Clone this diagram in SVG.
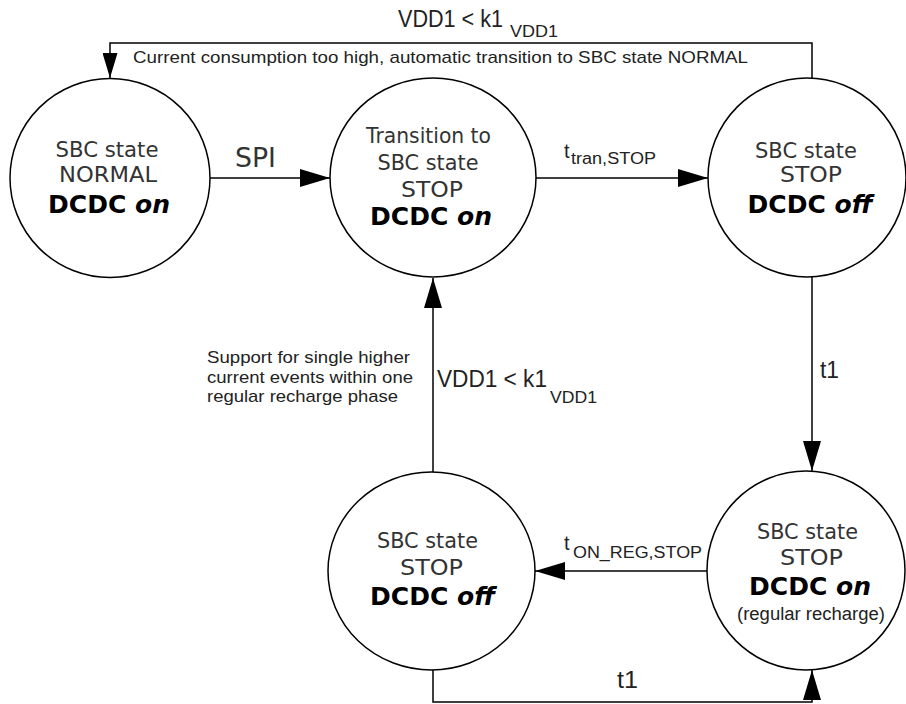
<svg xmlns="http://www.w3.org/2000/svg" width="906" height="704" viewBox="0 0 906 704">
  <style>
    .state { fill: #fff; stroke: #000; stroke-width: 1.5; }
    .wire { fill: none; stroke: #000; stroke-width: 1.5; }
    .st { font-family: "DejaVu Sans", "Liberation Sans", sans-serif; font-size: 21px; fill: #333; text-anchor: middle; }
    .dc { font-family: "DejaVu Sans", "Liberation Sans", sans-serif; font-size: 25px; font-weight: bold; fill: #000; text-anchor: middle; }
    .dc tspan { font-style: italic; }
    .note { font-family: "Liberation Sans", Arial, sans-serif; font-size: 18px; fill: #222; text-anchor: middle; }
    .lbl { font-family: "Liberation Sans", Arial, sans-serif; fill: #222; }
    .big { font-size: 23px; }
    .sub { font-size: 16px; }
    .mid { font-size: 17px; }
    .spi { font-family: "DejaVu Sans", sans-serif; font-size: 26px; fill: #333; }
  </style>
  <defs>
    <marker id="arrow" markerUnits="userSpaceOnUse" markerWidth="30" markerHeight="18" refX="30" refY="9" orient="auto">
      <path d="M0,0 L30,9 L0,18 Z" fill="#000"/>
    </marker>
    <marker id="arrow-small" markerUnits="userSpaceOnUse" markerWidth="25" markerHeight="15" refX="25" refY="7.5" orient="auto">
      <path d="M0,0 L25,7.5 L0,15 Z" fill="#000"/>
    </marker>
  </defs>

  <rect width="906" height="704" fill="#fff"/>

  <!-- transitions -->
  <g id="connectors">
    <path class="wire" d="M210,178 H330" marker-end="url(#arrow)"/>
    <path class="wire" d="M536,178 H708" marker-end="url(#arrow)"/>
    <path class="wire" d="M812,78 V43 H110 V78" marker-end="url(#arrow-small)"/>
    <path class="wire" d="M812,277 V471" marker-end="url(#arrow)"/>
    <path class="wire" d="M707,571 H535" marker-end="url(#arrow)"/>
    <path class="wire" d="M433,472 V278" marker-end="url(#arrow)"/>
    <path class="wire" d="M433,670 V702 H812 V670" marker-end="url(#arrow)"/>

    <!-- transition labels -->
    <text class="lbl big" x="398" y="27" textLength="105" lengthAdjust="spacingAndGlyphs">VDD1 &lt; k1</text>
    <text class="lbl sub" x="510" y="37" textLength="48" lengthAdjust="spacingAndGlyphs">VDD1</text>
    <text class="lbl mid" x="133" y="63" textLength="615" lengthAdjust="spacingAndGlyphs">Current consumption too high, automatic transition to SBC state NORMAL</text>

    <text class="spi" x="235" y="167" textLength="41" lengthAdjust="spacingAndGlyphs">SPI</text>

    <text class="lbl" x="564" y="158" font-size="20">t</text>
    <text class="lbl sub" x="571" y="164" textLength="85" lengthAdjust="spacingAndGlyphs">tran,STOP</text>

    <text class="lbl" x="820" y="378" font-size="24" textLength="19" lengthAdjust="spacingAndGlyphs">t1</text>

    <text class="lbl mid" x="207" y="363" textLength="203" lengthAdjust="spacingAndGlyphs">Support for single higher</text>
    <text class="lbl mid" x="207" y="383" textLength="206" lengthAdjust="spacingAndGlyphs">current events within one</text>
    <text class="lbl mid" x="207" y="402" textLength="191" lengthAdjust="spacingAndGlyphs">regular recharge phase</text>

    <text class="lbl big" x="437" y="387" textLength="110" lengthAdjust="spacingAndGlyphs">VDD1 &lt; k1</text>
    <text class="lbl sub" x="550" y="403" textLength="47" lengthAdjust="spacingAndGlyphs">VDD1</text>

    <text class="lbl" x="564" y="550" font-size="20">t</text>
    <text class="lbl sub" x="573" y="558" textLength="129" lengthAdjust="spacingAndGlyphs">ON_REG,STOP</text>

    <text class="lbl" x="617" y="688" font-size="24" textLength="21" lengthAdjust="spacingAndGlyphs">t1</text>
  </g>

  <g id="normal-on">
    <ellipse class="state" cx="110" cy="178" rx="100" ry="99.5"/>
    <text class="st" x="107" y="157" textLength="103" lengthAdjust="spacingAndGlyphs">SBC state</text>
    <text class="st" x="108" y="182" textLength="98" lengthAdjust="spacingAndGlyphs">NORMAL</text>
    <text class="dc" x="109" y="213">DCDC <tspan>on</tspan></text>
  </g>

  <g id="transition-stop-on">
    <ellipse class="state" cx="433" cy="177.5" rx="103" ry="99.5"/>
    <text class="st" x="428.5" y="143" textLength="125" lengthAdjust="spacingAndGlyphs">Transition to</text>
    <text class="st" x="428" y="170" textLength="101" lengthAdjust="spacingAndGlyphs">SBC state</text>
    <text class="st" x="432" y="197" textLength="62" lengthAdjust="spacingAndGlyphs">STOP</text>
    <text class="dc" x="431" y="225">DCDC <tspan>on</tspan></text>
  </g>

  <g id="stop-off">
    <ellipse class="state" cx="807" cy="177.5" rx="99" ry="99.5"/>
    <text class="st" x="806" y="158" textLength="102" lengthAdjust="spacingAndGlyphs">SBC state</text>
    <text class="st" x="811" y="182" textLength="62" lengthAdjust="spacingAndGlyphs">STOP</text>
    <text class="dc" x="810" y="213">DCDC <tspan>off</tspan></text>
  </g>

  <g id="stop-on-recharge">
    <ellipse class="state" cx="806" cy="570.5" rx="99" ry="99.5"/>
    <text class="st" x="807.5" y="539" textLength="101" lengthAdjust="spacingAndGlyphs">SBC state</text>
    <text class="st" x="811.5" y="565" textLength="63" lengthAdjust="spacingAndGlyphs">STOP</text>
    <text class="dc" x="810" y="595">DCDC <tspan>on</tspan></text>
    <text class="note" x="811" y="620" textLength="148" lengthAdjust="spacingAndGlyphs">(regular recharge)</text>
  </g>

  <g id="stop-off-lower">
    <ellipse class="state" cx="431.5" cy="571" rx="103.5" ry="99"/>
    <text class="st" x="427.5" y="548" textLength="101" lengthAdjust="spacingAndGlyphs">SBC state</text>
    <text class="st" x="431.5" y="575" textLength="63" lengthAdjust="spacingAndGlyphs">STOP</text>
    <text class="dc" x="432.5" y="605">DCDC <tspan>off</tspan></text>
  </g>
</svg>
